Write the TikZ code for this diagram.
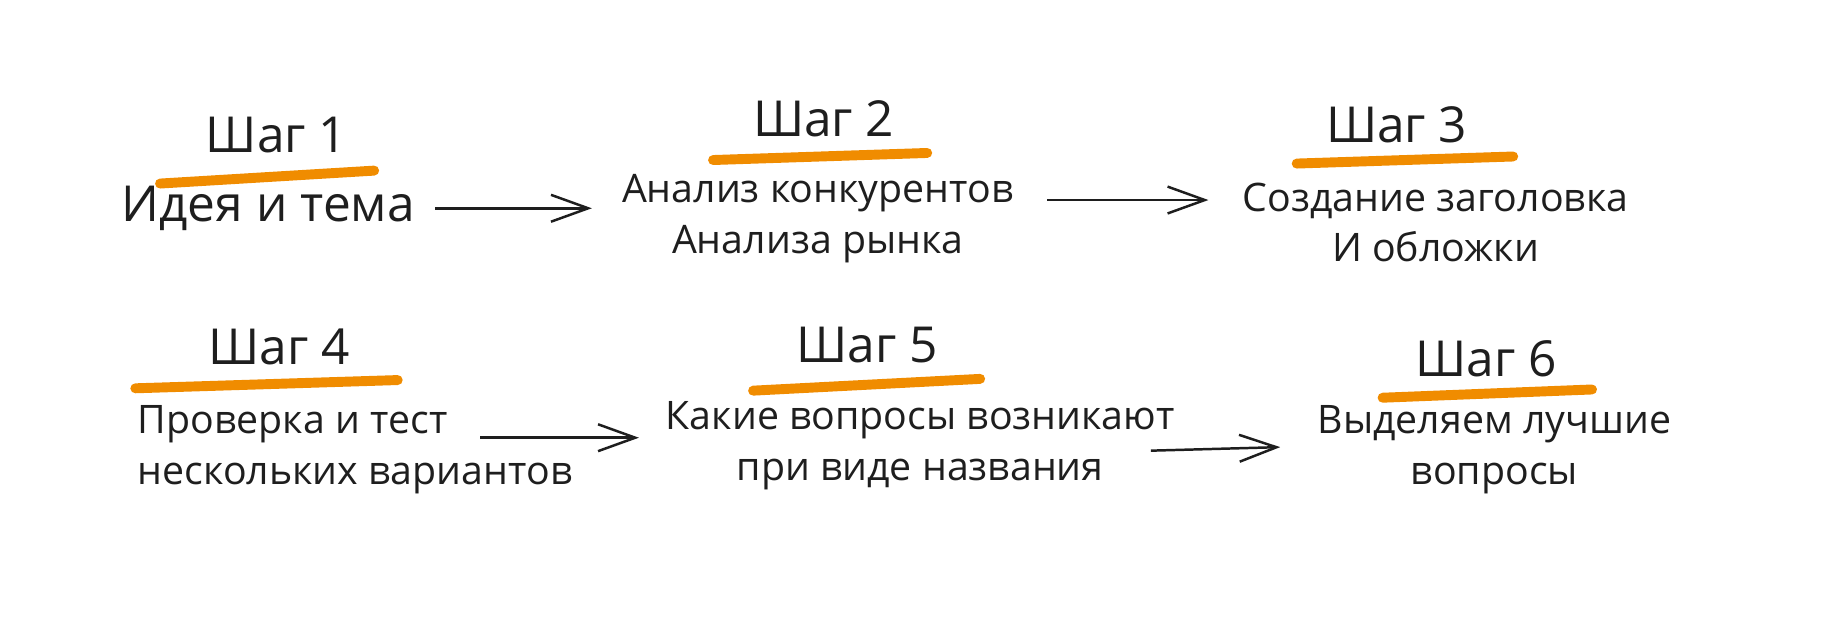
\documentclass[tikz,border=0pt]{standalone}
\usepackage{fontspec}
\setmainfont{Open Sans}
\usetikzlibrary{arrows.meta}
\definecolor{ink}{HTML}{1E1E1E}
\definecolor{markorange}{HTML}{F08C00}
\tikzset{
  head/.style={text=ink, font=\fontsize{24}{28}\selectfont},
  body/.style={text=ink, align=center, font=\fontsize{19}{24.5}\selectfont},
  bigbody/.style={body, font=\fontsize{24}{28}\selectfont},
  hilite/.style={draw=markorange, line width=4.8pt, line cap=round},
  flow/.style={draw=ink, line width=1.2pt, -{Straight Barb[length=18pt,width=13pt,line width=1.2pt]}}
}
\begin{document}
\begin{tikzpicture}[x=0.02cm, y=-0.02cm]
      \useasboundingbox (0,0) rectangle (1568,541);
      \draw
        (235,115) node[head] (s1){Шаг 1}
        (700,101) node[head] (s2){Шаг 2}
        (1187,106) node[head] (s3){Шаг 3}
        (237,295) node[head] (s4){Шаг 4}
        (737,293) node[head] (s5){Шаг 5}
        (1263,305) node[head] (s6){Шаг 6};
      \draw
        (228,177) node[bigbody] (t1){Идея и тема}
        (695,186) node[body] (t2){Анализ конкурентов\\Анализа рынка}
        (1220,189) node[body] (t3){Создание заголовка\\И обложки}
        (111,382) node[body, align=left, anchor=west] (t4){Проверка и тест\\нескольких вариантов}
        (782,379) node[body] (t5){Какие вопросы возникают\\при виде названия}
        (1270,382) node[body] (t6){Выделяем лучшие\\вопросы};
      \begin{scope}[hilite]
        \draw (136,156) -- (318,145);
        \draw (606,136) -- (788,130);
        \draw (1102,139) -- (1286,133);
        \draw (115,330) -- (338,323);
        \draw (640,332) -- (833,322);
        \draw (1175,338) -- (1353,331);
      \end{scope}
      \coordinate (a1) at (370,177);
      \coordinate (b1) at (503,177);
      \coordinate (a2) at (890,170);
      \coordinate (b2) at (1027,170);
      \coordinate (a4) at (408,372);
      \coordinate (b4) at (543,372);
      \coordinate (a5) at (978,383);
      \coordinate (b5) at (1088,380);
      \begin{scope}[flow]
        \draw (a1) to (b1);
        \draw (a2) to (b2);
        \draw (a4) to (b4);
        \draw (a5) to (b5);
      \end{scope}
    \end{tikzpicture}
\end{document}
